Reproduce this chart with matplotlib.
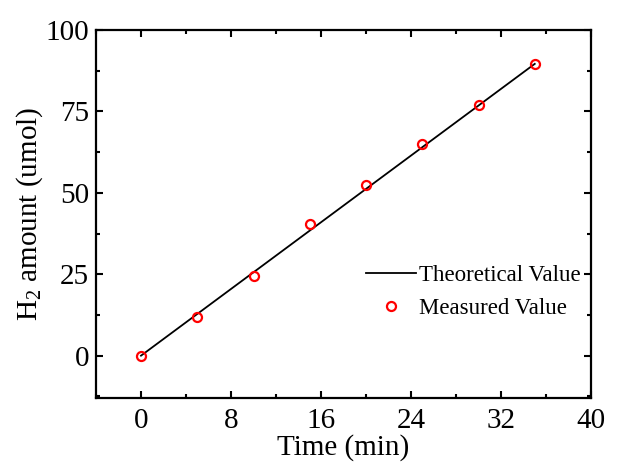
import matplotlib
matplotlib.use('Agg')
import matplotlib.pyplot as plt
from matplotlib.ticker import MultipleLocator

# tiempo de muestreo (min) y cantidad de H2 (umol)
time_min = [0, 5, 10, 15, 20, 25, 30, 35]
h2_measured = [0, 12, 24.5, 40.5, 52.5, 65, 77, 89.5]
h2_theory = [0, 12.8, 25.6, 38.4, 51.2, 64.0, 76.8, 89.6]

plt.rcParams['font.family'] = ['Liberation Serif', 'DejaVu Serif']
plt.rcParams['mathtext.fontset'] = 'custom'
plt.rcParams['mathtext.rm'] = 'Liberation Serif'

fig = plt.figure(figsize=(6.17, 4.68), dpi=100)
ax = fig.add_axes([96 / 617, 1 - 398 / 468, (591 - 96) / 617, (398 - 30) / 468])

ax.plot(time_min, h2_theory, color='black', lw=1.3, label='Theoretical Value')
ax.plot(time_min, h2_measured, 'o', ls='none', mfc='none', mec='red', ms=6.5, mew=1.6,
        label='Measured Value')

ax.set_xlim(-4, 40)
ax.set_ylim(-13, 100)
ax.xaxis.set_major_locator(MultipleLocator(8))
ax.xaxis.set_minor_locator(MultipleLocator(4))
ax.yaxis.set_major_locator(MultipleLocator(25))
ax.yaxis.set_minor_locator(MultipleLocator(12.5))
ax.tick_params(which='both', direction='in', top=True, right=True, width=1.5,
               labelsize=21)
ax.tick_params(axis='x', pad=7)
ax.tick_params(axis='y', pad=5)
ax.tick_params(which='major', length=5)
ax.tick_params(which='minor', length=3)
ax.tick_params(top=True, right=True, labeltop=False, labelright=False)
for s in ax.spines.values():
    s.set_linewidth(1.6)

ax.set_xlabel('Time (min)', fontsize=21, labelpad=0)
ax.set_ylabel(r'H$_2$ amount (umol)', fontsize=21, labelpad=0)

ax.legend(loc='lower right', bbox_to_anchor=(0.98, 0.215), frameon=False, fontsize=16.5,
          handlelength=2.2, handletextpad=0.15, labelspacing=0.5,
          borderpad=0, borderaxespad=0)

fig.savefig('out.png', dpi=100)
